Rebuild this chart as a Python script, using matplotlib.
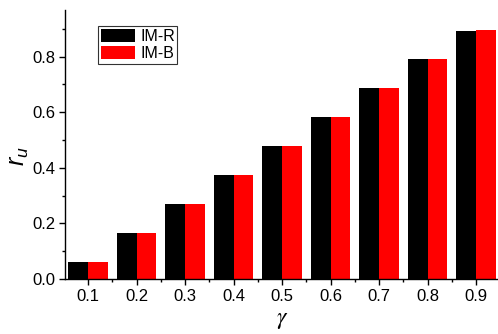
import matplotlib
matplotlib.use('Agg')
from matplotlib import pyplot as plt
from matplotlib.ticker import MultipleLocator
import numpy as np

plt.rcParams['font.family'] = ['Liberation Sans', 'DejaVu Sans']
plt.rcParams['mathtext.fontset'] = 'custom'
plt.rcParams['mathtext.rm'] = 'Liberation Sans'
plt.rcParams['mathtext.it'] = 'Liberation Sans:italic'

# Data
gamma = [0.1, 0.2, 0.3, 0.4, 0.5, 0.6, 0.7, 0.8, 0.9]
im_r = [0.062, 0.166, 0.270, 0.374, 0.478, 0.583, 0.686, 0.790, 0.894]
im_b = [0.062, 0.166, 0.270, 0.374, 0.478, 0.583, 0.687, 0.791, 0.896]
tick_labels = ['0.1', '0.2', '0.3', '0.4', '0.5', '0.6', '0.7', '0.8', '0.9']

W, H = 498, 334
fig = plt.figure(figsize=(W / 100, H / 100), dpi=100)
ax = fig.add_axes([65 / W, 1 - 279 / H, 435 / W, 269 / H])

x = np.array(gamma)
w = 0.041
ax.bar(x - w / 2, im_r, width=w, color='black', label='IM-R')
ax.bar(x + w / 2, im_b, width=w, color='red', label='IM-B')

ax.set_xlim(0.0525, 0.9495)
ax.set_ylim(0, 0.968)

ax.spines['top'].set_visible(False)
ax.spines['right'].set_visible(False)
ax.spines['left'].set_linewidth(1.0)
ax.spines['bottom'].set_linewidth(1.0)

ax.set_xticks(gamma)
ax.set_xticklabels(tick_labels)
ax.set_xticks(np.array(gamma[:-1]) + 0.05, minor=True)
ax.yaxis.set_major_locator(MultipleLocator(0.2))
ax.yaxis.set_minor_locator(MultipleLocator(0.1))
ax.yaxis.set_major_formatter(matplotlib.ticker.FormatStrFormatter('%.1f'))
ax.tick_params(which='major', direction='out', length=4, width=1, labelsize=12, pad=3)
ax.tick_params(which='minor', direction='out', length=2.5, width=1)

# axis titles placed where the reference has them
fig.text(282 / W, 1 - 320 / H, r'$\gamma$', fontsize=17, ha='center', va='center',
         math_fontfamily='stix')
fig.text(19 / W, 1 - 156 / H, r'$r_u$', fontsize=18, rotation=90, ha='center', va='center')

leg = ax.legend(loc='upper left', bbox_to_anchor=(0.077, 0.94), fontsize=11.5,
                frameon=True, fancybox=False, edgecolor='black',
                handlelength=2.15, handleheight=0.9, handletextpad=0.3,
                borderpad=0.15, labelspacing=0.15, borderaxespad=0)
leg.get_frame().set_linewidth(0.8)

fig.savefig('out.png', dpi=100)
